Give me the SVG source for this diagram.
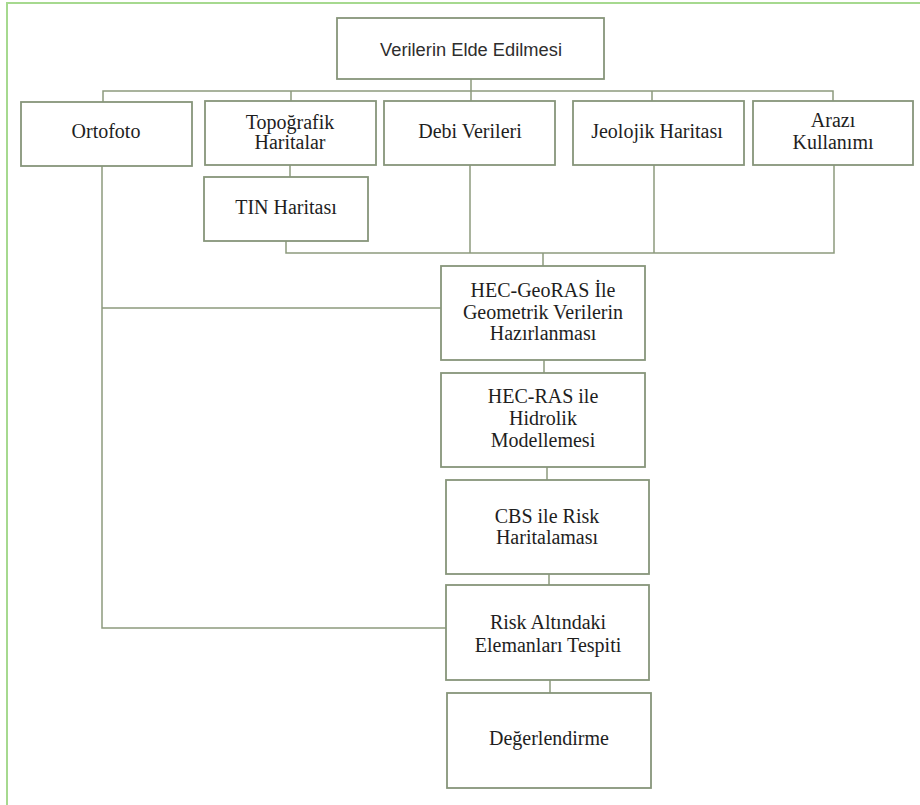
<svg xmlns="http://www.w3.org/2000/svg" width="920" height="805" viewBox="0 0 920 805">
<style>
.box{fill:#ffffff;stroke:#87957a;stroke-width:1.8}
.ln{fill:none;stroke:#8d9b7e;stroke-width:1.5}
.t{font-family:"Liberation Serif","Times New Roman",serif;font-size:20px;fill:#1e1e1e;text-anchor:middle}
.s{font-family:"Liberation Sans",Arial,sans-serif;font-size:18.3px;fill:#2e2e2e;text-anchor:middle}
.frame{fill:none;stroke:#a6d98f;stroke-width:2}
</style>
<rect width="920" height="805" fill="#ffffff"/>
<path class="frame" d="M7 805 V3 H920"/>
<g id="connectors">
<path class="ln" d="M471 79 V91 M103 102 V91 H833 V101 M291 91 V101 M471 91 V101 M652 91 V101"/>
<path class="ln" d="M290 165 V177"/>
<path class="ln" d="M286 241 V253 H834 V165 M470 165 V253 M654 165 V253 M543 253 V266"/>
<path class="ln" d="M102 166 V628 H446 M102 308 H441"/>
<path class="ln" d="M544 360 V373 M547 467 V480 M549 574 V585 M550 680 V693"/>
</g>
<g id="n-verilerin"><rect class="box" x="337" y="18" width="267" height="61"/><text class="s" x="471" y="56">Verilerin Elde Edilmesi</text></g>
<g id="n-ortofoto"><rect class="box" x="21" y="102" width="171" height="64"/><text class="t" x="106" y="138">Ortofoto</text></g>
<g id="n-topografik"><rect class="box" x="205" y="101" width="171" height="64"/><text class="t" x="290" y="129">Topoğrafik</text><text class="t" x="290" y="149">Haritalar</text></g>
<g id="n-debi"><rect class="box" x="384" y="101" width="171" height="64"/><text class="t" x="470" y="138">Debi Verileri</text></g>
<g id="n-jeolojik"><rect class="box" x="573" y="101" width="171" height="64"/><text class="t" x="657" y="138">Jeolojik Haritası</text></g>
<g id="n-arazi"><rect class="box" x="753" y="101" width="160" height="64"/><text class="t" x="833" y="127">Arazı</text><text class="t" x="833" y="149">Kullanımı</text></g>
<g id="n-tin"><rect class="box" x="204" y="177" width="164" height="64"/><text class="t" x="286" y="214">TIN Haritası</text></g>
<g id="n-geoRAS"><rect class="box" x="441" y="266" width="204" height="94"/><text class="t" x="543" y="297">HEC-GeoRAS İle</text><text class="t" x="543" y="319">Geometrik Verilerin</text><text class="t" x="543" y="340">Hazırlanması</text></g>
<g id="n-hecras"><rect class="box" x="441" y="373" width="204" height="94"/><text class="t" x="543" y="403">HEC-RAS ile</text><text class="t" x="543" y="425">Hidrolik</text><text class="t" x="543" y="447">Modellemesi</text></g>
<g id="n-cbs"><rect class="box" x="446" y="480" width="203" height="94"/><text class="t" x="547" y="523">CBS ile Risk</text><text class="t" x="547" y="544">Haritalaması</text></g>
<g id="n-risk"><rect class="box" x="446" y="585" width="203" height="95"/><text class="t" x="548" y="629">Risk Altındaki</text><text class="t" x="548" y="652">Elemanları Tespiti</text></g>
<g id="n-degerlendirme"><rect class="box" x="447" y="693" width="204" height="95"/><text class="t" x="549" y="745">Değerlendirme</text></g>
</svg>
